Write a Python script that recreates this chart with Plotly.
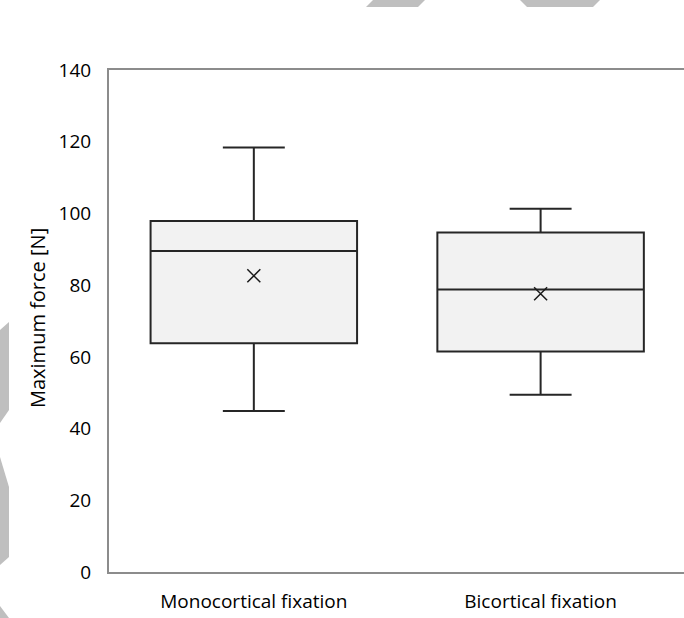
import plotly.graph_objects as go

categories = ["Monocortical fixation", "Bicortical fixation"]
lower_whisker = [44.9, 49.4]
q1_values = [63.8, 61.5]
median_values = [89.5, 78.8]
q3_values = [97.9, 94.7]
upper_whisker = [118.4, 101.3]
mean_values = [82.6, 77.6]

y_ticks = [0, 20, 40, 60, 80, 100, 120, 140]
y_title = "Maximum force [N]"

FONT = "Open Sans"
W, H = 684, 618
ML, MR, MT, MB = 109, 0, 70, 46
PW, PH = W - ML - MR, H - MT - MB


def px(x):
    return (x - ML) / PW


def py(y):
    return (H - MB - y) / PH


fig = go.Figure()
fig.add_trace(go.Box(
    x=categories,
    q1=q1_values,
    median=median_values,
    q3=q3_values,
    lowerfence=lower_whisker,
    upperfence=upper_whisker,
    width=0.72,
    fillcolor="#F2F2F2",
    line=dict(color="#262626", width=2),
    whiskerwidth=0.3,
    boxpoints=False,
    showlegend=False,
    hoverinfo="skip",
))
fig.add_trace(go.Scatter(
    x=categories,
    y=mean_values,
    mode="markers",
    marker=dict(symbol="x-thin-open", size=13, color="#1a1a1a",
                line=dict(color="#1a1a1a", width=1.5)),
    showlegend=False,
    hoverinfo="skip",
))

fig.update_layout(
    width=W,
    height=H,
    autosize=False,
    margin=dict(l=ML, r=MR, t=MT, b=MB),
    paper_bgcolor="white",
    plot_bgcolor="white",
    font=dict(family=FONT, size=19, color="#000000"),
    xaxis=dict(
        type="category",
        range=[-0.505, 1.5],
        showline=True, mirror=True, linecolor="#8C8C8C", linewidth=2,
        showgrid=False, ticks="", ticklabelstandoff=11,
        tickfont=dict(family=FONT, size=19, color="#000000"),
    ),
    yaxis=dict(
        range=[0, 140],
        tickvals=y_ticks,
        showline=True, mirror=False, linecolor="#8C8C8C", linewidth=2,
        showgrid=False, zeroline=False, ticks="", ticklabelstandoff=12,
        tickfont=dict(family=FONT, size=19, color="#000000"),
    ),
)

fig.add_annotation(
    text=y_title, xref="paper", yref="paper",
    x=px(37), y=py(318), xanchor="center", yanchor="middle",
    textangle=-90, showarrow=False,
    font=dict(family=FONT, size=20, color="#000000"),
)

# decorative grey shapes at the picture's edges
GREY = "#BFBFBF"
deco = [
    [(373, 0), (425, 0), (418, 7), (366, 7)],
    [(520, 0), (600, 0), (593, 7), (527, 7)],
    [(0, 330), (9, 322), (9, 410), (0, 423)],
    [(0, 457), (9, 487), (9, 557), (0, 565)],
    [(0, 606), (9, 618), (0, 618)],
]
for poly in deco:
    path = "M " + " L ".join(f"{px(x)},{py(y)}" for x, y in poly) + " Z"
    fig.add_shape(type="path", xref="paper", yref="paper", path=path,
                  fillcolor=GREY, line=dict(width=0), layer="below")

fig.write_html(
    "out.html",
    config={"displayModeBar": False, "responsive": False},
    post_script="document.body.style.margin='0';document.body.style.overflow='hidden';",
)
